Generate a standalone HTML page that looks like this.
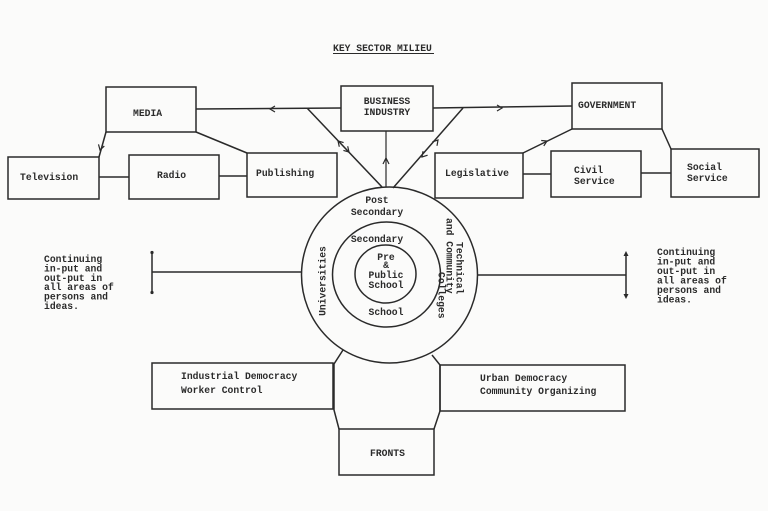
<!DOCTYPE html>
<html><head><meta charset="utf-8"><style>
html,body{margin:0;padding:0;background:#fbfbfa;}
svg{display:block;}
text{font-family:"Liberation Mono",monospace;font-size:9.7px;font-weight:bold;fill:#2b2b2b;}
</style></head><body>
<svg width="768" height="511" viewBox="0 0 768 511" xmlns="http://www.w3.org/2000/svg">
<rect width="768" height="511" fill="#fbfbfa"/>
<g fill="none" stroke="#2a2a2a" stroke-width="1.5">
<!-- title underline -->
<line x1="333" y1="53.5" x2="434" y2="53.5" stroke-width="1"/>
<!-- boxes -->
<rect x="106" y="87" width="90" height="45"/>
<rect x="8" y="157" width="91" height="42"/>
<rect x="129" y="155" width="90" height="44"/>
<rect x="247" y="153" width="90" height="44"/>
<rect x="341" y="86" width="92" height="45"/>
<rect x="572" y="83" width="90" height="46"/>
<rect x="435" y="153" width="88" height="45"/>
<rect x="551" y="151" width="90" height="46"/>
<rect x="671" y="149" width="88" height="48"/>
<rect x="152" y="363" width="181" height="46"/>
<rect x="440" y="365" width="185" height="46"/>
<rect x="339" y="429" width="95" height="46"/>
<!-- connectors -->
<line x1="196" y1="109" x2="341" y2="108"/>
<line x1="433" y1="108" x2="572" y2="106"/>
<line x1="307" y1="108" x2="382" y2="187"/>
<line x1="463" y1="108" x2="393" y2="188"/>
<line x1="386" y1="131" x2="386" y2="187" stroke-width="1.2"/>
<line x1="106" y1="132" x2="99" y2="157"/>
<line x1="196" y1="132" x2="247" y2="153"/>
<line x1="99" y1="177" x2="129" y2="177"/>
<line x1="219" y1="176" x2="247" y2="176"/>
<line x1="523" y1="153" x2="572" y2="129"/>
<line x1="662" y1="129" x2="671" y2="149"/>
<line x1="523" y1="174" x2="551" y2="174"/>
<line x1="641" y1="173" x2="671" y2="173"/>
<!-- arrows -->
<polyline points="275,106 270,109 275,112" stroke-width="1.2"/>
<polyline points="497,105 502,108 497,111" stroke-width="1.2"/>
<polyline points="343.6,142.6 338,141 339.3,146.7" stroke-width="1.2"/>
<polyline points="347.7,146.3 349,152 343.4,150.4" stroke-width="1.2"/>
<polyline points="437,145.8 438,140 432.4,141.8" stroke-width="1.2"/>
<polyline points="427.6,155.2 422,157 423,151.2" stroke-width="1.2"/>
<polyline points="383,164 386,158 389,164" stroke-width="1.2"/>
<polyline points="543.8,145.9 547,141 541.2,140.5" stroke-width="1.2"/>
<polyline points="104.3,146 100,150 98.5,144.4" stroke-width="1.2"/>
<!-- circles -->
<ellipse cx="389.5" cy="275" rx="88" ry="88"/>
<ellipse cx="386.5" cy="274.5" rx="54" ry="52.5"/>
<ellipse cx="385.5" cy="274" rx="30.5" ry="29"/>
<!-- brackets -->
<line x1="152" y1="272" x2="302" y2="272"/>
<line x1="152" y1="252" x2="152" y2="293"/>
<line x1="477" y1="275" x2="626" y2="275"/>
<line x1="626" y1="253" x2="626" y2="297"/>
<!-- bottom curved connectors -->
<polyline points="343,350 334,364 334,410 339,429"/>
<polyline points="432,355 440,365 440,411 434,429"/>
</g>
<g fill="#2a2a2a">
<circle cx="152" cy="252.5" r="1.6"/><circle cx="152" cy="292.5" r="1.6"/>
<polygon points="623.5,256 626,251 628.5,256"/><polygon points="623.5,294 626,299 628.5,294"/>
</g>
<!-- text -->
<text x="333" y="51">KEY SECTOR MILIEU</text>
<text x="133" y="116">MEDIA</text>
<text x="20" y="180">Television</text>
<text x="157" y="178">Radio</text>
<text x="256" y="176">Publishing</text>
<text x="387" y="104" text-anchor="middle">BUSINESS</text>
<text x="387" y="115" text-anchor="middle">INDUSTRY</text>
<text x="578" y="108">GOVERNMENT</text>
<text x="445" y="176">Legislative</text>
<text x="574" y="173">Civil</text>
<text x="574" y="184">Service</text>
<text x="687" y="170">Social</text>
<text x="687" y="181">Service</text>
<text x="377" y="203" text-anchor="middle">Post</text>
<text x="377" y="215" text-anchor="middle">Secondary</text>
<text x="377" y="242" text-anchor="middle">Secondary</text>
<text x="386" y="260" text-anchor="middle">Pre</text>
<text x="386" y="268" text-anchor="middle">&amp;</text>
<text x="386" y="278" text-anchor="middle">Public</text>
<text x="386" y="288" text-anchor="middle">School</text>
<text x="386" y="315" text-anchor="middle">School</text>
<text x="325.5" y="281" text-anchor="middle" transform="rotate(-90 325.5 281)">Universities</text>
<text x="456.5" y="242" transform="rotate(90 456.5 242)">Technical</text>
<text x="446.5" y="218" transform="rotate(90 446.5 218)">and Community</text>
<text x="438.5" y="272" transform="rotate(90 438.5 272)">Colleges</text>
<text x="44" y="262">Continuing</text>
<text x="44" y="271.5">in-put and</text>
<text x="44" y="280.8">out-put in</text>
<text x="44" y="290">all areas of</text>
<text x="44" y="299.5">persons and</text>
<text x="44" y="309">ideas.</text>
<text x="657" y="255">Continuing</text>
<text x="657" y="264.5">in-put and</text>
<text x="657" y="274">out-put in</text>
<text x="657" y="283.5">all areas of</text>
<text x="657" y="293">persons and</text>
<text x="657" y="302.5">ideas.</text>
<text x="181" y="379">Industrial Democracy</text>
<text x="181" y="393">Worker Control</text>
<text x="480" y="381">Urban Democracy</text>
<text x="480" y="394">Community Organizing</text>
<text x="370" y="456">FRONTS</text>
</svg>
</body></html>
